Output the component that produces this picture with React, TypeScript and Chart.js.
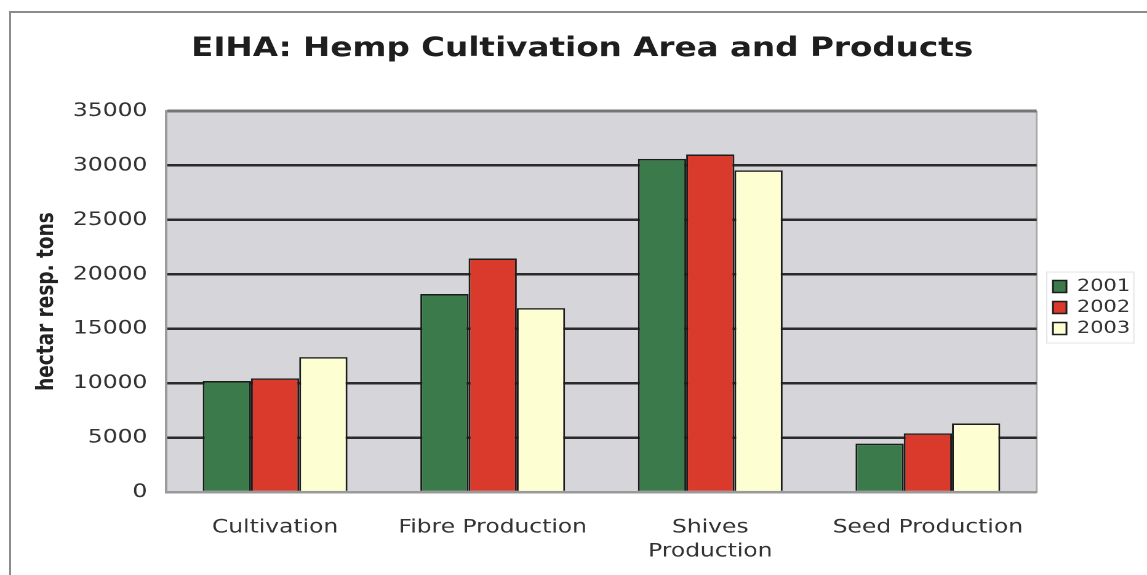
import React, { useEffect, useRef } from "react";
import { Chart, registerables } from "chart.js";

Chart.register(...registerables);

const TITLE = "EIHA: Hemp Cultivation Area and Products";
const Y_TITLE = "hectar resp. tons";
const categories: (string | string[])[] = [
  "Cultivation",
  "Fibre Production",
  ["Shives", "Production"],
  "Seed Production",
];
const seriesNames = ["2001", "2002", "2003"];
const values2001 = [10200, 18200, 30600, 4450];
const values2002 = [10450, 21450, 31000, 5400];
const values2003 = [12400, 16900, 29550, 6300];
const seriesColors = ["#3b7b4b", "#d93a2b", "#fefed3"];
const yMin = 0;
const yMax = 35000;
const yStep = 5000;

const FAMILY = "'DejaVu Sans', Verdana, sans-serif";
const NATURAL_W = 932;
const H = 575;
const STRETCH = 1147 / NATURAL_W;

const plotDecor = {
  id: "plotDecor",
  beforeDraw(chart: any) {
    const { ctx, chartArea: a } = chart;
    ctx.save();
    ctx.fillStyle = "#d6d6da";
    ctx.fillRect(a.left, a.top, a.right - a.left, a.bottom - a.top);
    ctx.strokeStyle = "#a8a8a8";
    ctx.lineWidth = 1.5;
    ctx.beginPath();
    ctx.moveTo(a.right, a.top);
    ctx.lineTo(a.right, a.bottom);
    ctx.stroke();
    ctx.restore();
  },
  afterDraw(chart: any) {
    const boxes = chart.legend && chart.legend.legendHitBoxes;
    if (!boxes || !boxes.length) return;
    let l = Infinity, t = Infinity, r = -Infinity, b = -Infinity;
    boxes.forEach((h: any) => {
      l = Math.min(l, h.left);
      t = Math.min(t, h.top);
      r = Math.max(r, h.left + h.width);
      b = Math.max(b, h.top + h.height);
    });
    const { ctx } = chart;
    ctx.save();
    ctx.strokeStyle = "#e4e4e4";
    ctx.lineWidth = 1;
    ctx.strokeRect(l - 5, t - 6, r - l + 8, b - t + 12);
    ctx.restore();
  },
};

export default function App() {
  const ref = useRef<HTMLCanvasElement>(null);

  useEffect(() => {
    if (!ref.current) return;
    const allValues = [values2001, values2002, values2003];
    const chart = new Chart(ref.current, {
      type: "bar",
      data: {
        labels: categories as any,
        datasets: seriesNames.map((name, i) => ({
          label: name,
          data: allValues[i],
          backgroundColor: seriesColors[i],
          borderColor: "#1c1c1c",
          borderWidth: 1.5,
          categoryPercentage: 0.665,
          barPercentage: 1,
        })),
      },
      options: {
        animation: false,
        responsive: true,
        maintainAspectRatio: false,
        devicePixelRatio: 2,
        layout: { padding: { left: 17.7, right: 3.7, top: 10, bottom: -4 } },
        plugins: {
          title: {
            display: true,
            text: TITLE,
            color: "#1e1e1e",
            font: { family: FAMILY, size: 26.5, weight: "bold" },
            padding: { top: 23.2, bottom: 46 },
          },
          legend: {
            position: "right",
            align: "center",
            fullSize: false,
            title: { display: true, text: " ", font: { family: FAMILY, size: 10 }, padding: 0 },
            labels: {
              font: { family: FAMILY, size: 17 },
              color: "#333333",
              boxWidth: 11,
              boxHeight: 12,
              padding: 4,
            },
          },
          tooltip: { enabled: false },
        },
        scales: {
          x: {
            grid: { display: false },
            border: { display: true, color: "#9a9a9a", width: 1.5 },
            ticks: {
              font: { family: FAMILY, size: 19, lineHeight: 1.26 },
              color: "#333333",
              padding: 15.5,
              maxRotation: 0,
              autoSkip: false,
            },
          },
          y: {
            min: yMin,
            max: yMax,
            ticks: {
              stepSize: yStep,
              font: { family: FAMILY, size: 19 },
              color: "#333333",
              padding: 15.4,
              callback: (v: any) => String(v),
            },
            grid: {
              drawTicks: false,
              color: (c: any) =>
                c.tick && c.tick.value === yMax
                  ? "#767676"
                  : c.tick && c.tick.value === yMin
                  ? "#9a9a9a"
                  : "#2b2b2b",
              lineWidth: (c: any) => (c.tick && c.tick.value === yMax ? 3 : 2.5),
            },
            border: { display: true, color: "#9a9a9a", width: 2 },
            title: {
              display: true,
              text: Y_TITLE,
              color: "#222222",
              font: { family: FAMILY, size: 18.5, weight: "bold" },
              padding: { top: 9.4, bottom: -5.4 },
            },
          },
          y2: {
            position: "right",
            grid: { display: false },
            ticks: { display: false },
            border: { display: false },
            afterFit: (s: any) => {
              s.width = 9.2;
            },
          },
        },
      } as any,
      plugins: [plotDecor],
    });
    return () => chart.destroy();
  }, []);

  return (
    <div
      style={{
        position: "fixed",
        left: 0,
        top: 0,
        width: 1147,
        height: H,
        overflow: "hidden",
        background: "#ffffff",
      }}
    >
      <div
        style={{
          position: "absolute",
          left: 9,
          top: 11,
          right: -10,
          bottom: -10,
          borderTop: "2px solid #8c8c8c",
          borderLeft: "2px solid #8c8c8c",
        }}
      />
      <div
        style={{
          position: "absolute",
          left: 0,
          top: 0,
          width: NATURAL_W,
          height: H,
          transform: `scaleX(${STRETCH})`,
          transformOrigin: "0 0",
        }}
      >
        <canvas ref={ref} />
      </div>
    </div>
  );
}
